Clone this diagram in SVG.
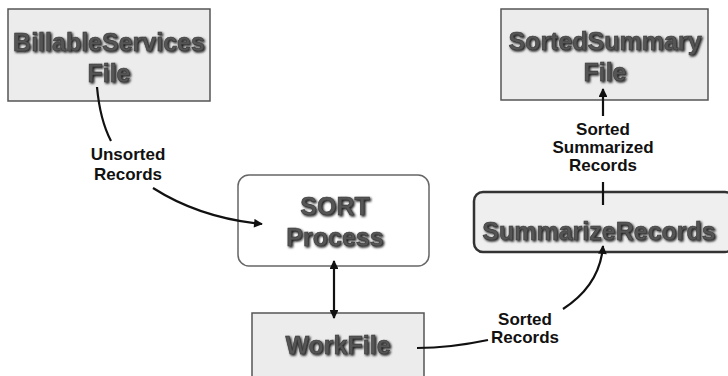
<svg xmlns="http://www.w3.org/2000/svg" width="728" height="376" viewBox="0 0 728 376">
<defs>
<filter id="sh" x="-10%" y="-30%" width="120%" height="160%">
<feDropShadow dx="1.3" dy="1.3" stdDeviation="1" flood-color="#111" flood-opacity="1"/>
</filter>
<marker id="ah" viewBox="0 0 10 10" refX="9" refY="5" markerWidth="4.5" markerHeight="4" orient="auto-start-reverse" markerUnits="strokeWidth">
<path d="M0,0 L10,5 L0,10 Z" fill="#111"/>
</marker>
</defs>
<style>
.file{fill:#ececec;stroke:#555;stroke-width:1.5}
.proc{fill:#fff;stroke:#666;stroke-width:1.5}
.proc2{fill:#efefef;stroke:#333;stroke-width:2.5}
.nt{font-family:"Liberation Sans",Arial,sans-serif;font-weight:bold;font-size:25px;fill:#555;stroke:#3a3a3a;stroke-width:0.6;text-anchor:middle;filter:url(#sh)}
.lb{font-family:"Liberation Sans",Arial,sans-serif;font-weight:bold;font-size:17px;fill:#111;text-anchor:middle}
.cn{fill:none;stroke:#111;stroke-width:2.2}
</style>
<rect width="728" height="376" fill="#fff"/>
<g id="billable">
<rect class="file" x="8" y="9" width="202" height="92"/>
<text class="nt" x="109" y="51">BillableServices</text>
<text class="nt" x="109" y="82">File</text>
</g>
<g id="sortedsummary">
<rect class="file" x="501" y="9" width="207" height="91"/>
<text class="nt" x="605" y="50">SortedSummary</text>
<text class="nt" x="605" y="81">File</text>
</g>
<g id="sort">
<rect class="proc" x="238" y="175" width="191" height="91" rx="11"/>
<text class="nt" x="335" y="215">SORT</text>
<text class="nt" x="335" y="246">Process</text>
</g>
<g id="summarize">
<rect class="proc2" x="474" y="192" width="260" height="60" rx="9"/>
<text class="nt" x="599" y="240">SummarizeRecords</text>
</g>
<g id="workfile">
<rect class="file" x="252" y="313" width="172" height="70"/>
<text class="nt" x="338" y="354">WorkFile</text>
</g>
<g id="connectors">
<path class="cn" d="M97,87 Q100,120 111,141"/>
<path class="cn" d="M153,188 Q200,218 262,224" marker-end="url(#ah)"/>
<path class="cn" d="M334,318 L334,261" marker-start="url(#ah)" marker-end="url(#ah)"/>
<path class="cn" d="M417,348 Q450,348 488,340"/>
<path class="cn" d="M563,309 Q600,285 603,246" marker-end="url(#ah)"/>
<path class="cn" d="M603,182 L603,205"/>
<path class="cn" d="M603,116 L603,89" marker-end="url(#ah)"/>
<text class="lb" x="128" y="160">Unsorted</text>
<text class="lb" x="128" y="180">Records</text>
<text class="lb" x="525" y="325">Sorted</text>
<text class="lb" x="525" y="343">Records</text>
<text class="lb" x="603" y="135">Sorted</text>
<text class="lb" x="603" y="153">Summarized</text>
<text class="lb" x="603" y="171">Records</text>
</g>
</svg>
